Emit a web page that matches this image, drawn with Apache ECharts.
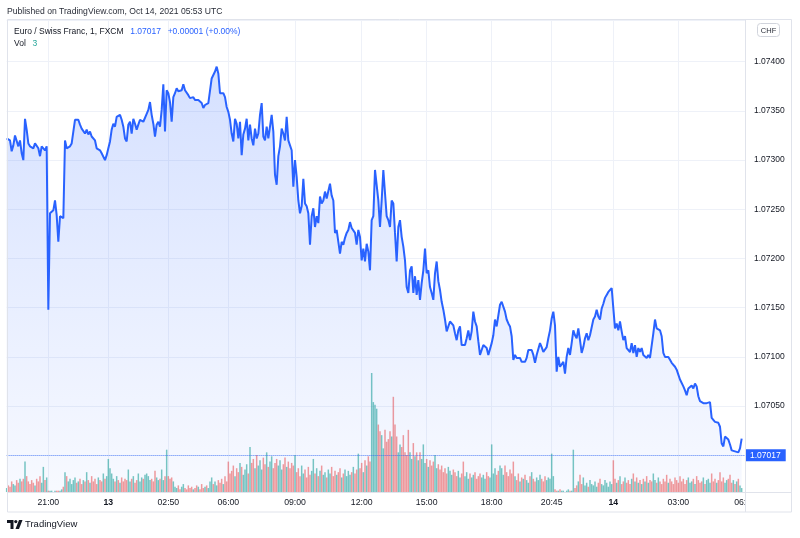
<!DOCTYPE html>
<html><head><meta charset="utf-8">
<script src="https://cdn.jsdelivr.net/npm/echarts@6/dist/echarts.min.js"></script>
<style>html,body{margin:0;padding:0;background:#fff;}#c{width:800px;height:538px;}</style>
</head><body><div id="c"></div>
<script>
// 1-minute EUR/CHF closes, sampled left to right
const closePrices = [
1.07322,1.07321,1.07320,1.07309,1.07315,1.07325,1.07324,1.07314,1.07320,1.07307,
1.07300,1.07342,1.07331,1.07317,1.07314,1.07313,1.07312,1.07317,1.07315,1.07312,
1.07304,1.07314,1.07315,1.07310,1.07314,1.07148,1.07246,1.07248,1.07249,1.07259,
1.07244,1.07217,1.07243,1.07243,1.07241,1.07320,1.07312,1.07314,1.07314,1.07317,
1.07329,1.07341,1.07339,1.07341,1.07336,1.07332,1.07334,1.07327,1.07331,1.07326,
1.07329,1.07324,1.07322,1.07320,1.07312,1.07314,1.07310,1.07307,1.07309,1.07300,
1.07305,1.07312,1.07319,1.07331,1.07337,1.07334,1.07344,1.07342,1.07346,1.07341,
1.07334,1.07322,1.07319,1.07336,1.07339,1.07327,1.07342,1.07337,1.07331,1.07336,
1.07341,1.07342,1.07339,1.07341,1.07347,1.07351,1.07359,1.07346,1.07337,1.07324,
1.07336,1.07339,1.07334,1.07351,1.07377,1.07329,1.07371,1.07368,1.07359,1.07339,
1.07364,1.07368,1.07373,1.07370,1.07368,1.07371,1.07377,1.07371,1.07370,1.07366,
1.07363,1.07362,1.07364,1.07361,1.07360,1.07361,1.07359,1.07358,1.07353,1.07356,
1.07354,1.07358,1.07359,1.07383,1.07381,1.07390,1.07395,1.07388,1.07368,1.07366,
1.07368,1.07364,1.07354,1.07349,1.07341,1.07327,1.07319,1.07342,1.07337,1.07322,
1.07339,1.07305,1.07326,1.07332,1.07342,1.07320,1.07336,
1.07322,1.07315,1.07332,1.07322,1.07327,1.07346,1.07358,1.07324,1.07320,1.07334,
1.07322,1.07334,1.07346,1.07329,1.07285,1.07275,1.07304,1.07314,1.07332,1.07327,
1.07320,1.07344,1.07320,1.07315,1.07310,1.07273,1.07300,1.07283,1.07259,1.07246,
1.07253,1.07281,1.07256,1.07253,1.07246,1.07214,1.07243,1.07251,1.07232,1.07243,
1.07236,1.07263,1.07256,1.07259,1.07268,1.07261,1.07263,1.07276,1.07264,1.07259,
1.07226,1.07229,1.07217,1.07205,1.07217,1.07214,1.07221,1.07226,1.07229,1.07237,
1.07231,1.07232,1.07226,1.07214,1.07229,1.07222,1.07198,1.07210,1.07197,1.07215,
1.07207,1.07188,1.07239,1.07243,1.07290,1.07292,1.07259,1.07232,1.07259,1.07290,
1.07288,1.07243,1.07239,1.07232,1.07259,1.07256,1.07226,1.07197,1.07232,1.07239,
1.07222,1.07212,1.07198,1.07171,1.07165,1.07188,1.07192,1.07165,1.07182,1.07163,
1.07178,
1.07158,1.07175,1.07188,1.07210,1.07185,1.07188,1.07171,1.07165,1.07158,1.07185,
1.07197,1.07177,1.07168,1.07156,1.07148,1.07138,1.07126,1.07131,1.07136,1.07138,
1.07132,1.07124,1.07117,1.07127,1.07131,1.07112,1.07110,1.07112,1.07119,1.07127,
1.07117,1.07126,1.07146,1.07136,1.07131,1.07116,1.07102,1.07107,1.07112,1.07114,
1.07109,1.07102,1.07104,1.07114,1.07122,1.07138,1.07131,1.07129,1.07153,1.07156,
1.07156,1.07146,1.07138,1.07134,1.07131,1.07121,1.07097,1.07102,1.07099,1.07097,
1.07099,1.07095,1.07097,1.07095,1.07099,1.07107,1.07105,1.07107,1.07102,1.07094,
1.07102,1.07104,1.07114,1.07110,1.07105,1.07104,1.07110,1.07119,1.07127,1.07139,
1.07146,1.07132,1.07085,1.07100,1.07090,1.07092,1.07095,1.07083,1.07100,1.07109,
1.07102,1.07114,1.07127,1.07122,1.07119,1.07129,1.07117,1.07104,1.07110,1.07119,
1.07124,1.07117,1.07122,1.07122,1.07138,1.07141,1.07148,1.07141,1.07138,1.07149,
1.07154,1.07160,1.07163,1.07166,1.07168,1.07170,1.07168,1.07129,1.07134,1.07127,
1.07136,1.07126,1.07117,1.07121,1.07109,1.07107,1.07105,1.07114,1.07104,1.07112,
1.07100,1.07109,1.07105,1.07109,1.07102,1.07104,1.07099,1.07102,1.07099,1.07097,
1.07124,1.07138,1.07129,1.07129,1.07127,1.07121,1.07104,1.07100,1.07099,1.07100,
1.07097,1.07094,1.07092,1.07090,1.07087,1.07082,1.07077,1.07075,1.07070,1.07066,
1.07061,1.07068,1.07070,1.07071,1.07068,1.07073,1.07070,1.07060,1.07055,1.07053,
1.07053,1.07052,1.07053,1.07053,1.07054,1.07038,1.07036,1.07034,1.07034,1.07033,
1.07029,1.07012,1.07009,1.07019,1.07021,1.07016,1.07011,1.07005,1.07005,1.07004,
1.07004,1.07003,1.07007,1.07017
];
// tick volume for each sampled bar
const volumes = [
3,5,4,8,6,5,9,7,10,8,
10,23,12,8,6,9,7,5,10,8,12,7,19,9,11,
1,1,1,0,1,1,1,1,2,
4,15,12,8,10,6,9,11,7,8,10,6,9,8,15,
9,7,12,8,10,6,11,9,8,14,10,12,
25,
18,14,10,8,12,9,7,11,8,10,9,
17,8,10,12,7,9,14,8,11,10,13,14,12,9,10,8,16,11,9,10,17,9,12,
32,
12,10,11,8,
4,3,5,2,4,6,3,2,5,3,4,2,3,5,4,2,6,3,4,5,3,8,
11,6,8,5,9,7,10,6,12,8,23,14,
16,20,12,18,15,22,19,13,17,21,14,34,
22,25,18,28,20,24,17,26,21,30,19,23,27,18,22,25,20,24,17,21,26,19,23,18,22,20,
28,
15,18,12,20,14,17,11,19,13,16,25,14,18,12,16,20,13,15,11,17,14,19,12,16,13,15,18,11,14,17,12,16,13,15,19,14,17,
29,
18,22,15,24,20,27,23,
90,
68,66,63,51,46,43,33,47,38,40,46,42,72,51,42,30,36,
34,43,30,28,47,30,25,37,27,30,24,30,
25,36,22,25,19,24,20,23,28,18,21,17,20,15,18,14,19,16,13,17,15,12,16,11,14,23,12,15,10,14,11,13,15,10,12,14,11,13,10,15,12,11,36,14,18,13,16,20,
18,13,20,15,12,17,14,23,
12,9,14,8,11,10,13,9,7,12,15,10,8,11,9,13,10,8,12,9,11,10,
29,12,
2,1,1,2,1,1,0,1,2,1,1,
32,
3,5,8,13,6,11,5,7,4,9,6,5,8,4,7,10,6,5,9,7,4,8,6,
24,
10,7,9,12,6,8,11,7,9,6,10,14,8,11,7,9,6,10,8,12,7,9,8,14,9,7,11,8,6,10,8,13,
7,10,8,6,11,9,7,12,8,10,6,9,11,7,8,10,6,12,9,7,8,11,6,9,10,7,
14,8,10,7,9,15,8,11,7,9,10,13,7,9,6,8,10,5,3
];
const rightPadBars = 2;
const tickLabels = ['21:00','13','02:50','06:00','09:00','12:00','15:00','18:00','20:45','14','03:00','06:00'];
const tickIndex = [25,61,97,133,173,213,252,291,327,364,403,443];
const boldTicks = ['13','14'];
const headerText = 'Published on TradingView.com, Oct 14, 2021 05:53 UTC';
const symbolText = 'Euro / Swiss Franc, 1, FXCM';
const changeText = '+0.00001 (+0.00%)';
const currencyText = 'CHF';
const priceMin = 1.069627, priceMax = 1.074424;

const FONT = '"Liberation Sans", Arial, sans-serif';
const BLUE = '#2962ff';
const UP = 'rgba(38,166,154,0.62)', DOWN = 'rgba(239,83,80,0.58)';
const n = closePrices.length + rightPadBars;
const categories = Array.from({length: n}, (_, i) => String(i));
const lineData = categories.map((_, i) => i < closePrices.length ? closePrices[i] : null);
const volData = categories.map((_, i) => i < volumes.length ? {
  value: volumes[i],
  itemStyle: {color: (i === 0 || closePrices[i] >= closePrices[i - 1]) ? UP : DOWN}
} : null);
const last = closePrices[closePrices.length - 1];
const lastVol = volumes[volumes.length - 1];
const isTick = (i) => tickIndex.indexOf(i) >= 0;

const chart = echarts.init(document.getElementById('c'), null, {renderer: 'canvas'});
chart.setOption({
  animation: false,
  backgroundColor: '#ffffff',
  textStyle: {fontFamily: FONT},
  grid: [
    {left: 6.67, right: 55, top: 20, bottom: 46},
    {left: 6.67, right: 55, top: 373, bottom: 46}
  ],
  xAxis: [
    {type: 'category', gridIndex: 0, data: categories, boundaryGap: false,
     axisLine: {show: false}, axisTick: {show: false},
     axisLabel: {interval: (i) => isTick(i), margin: 6, fontSize: 8.7, color: '#131722', fontFamily: FONT,
       formatter: (v) => { const k = tickIndex.indexOf(+v); if (k < 0) return ''; const t = tickLabels[k]; return boldTicks.indexOf(t) >= 0 ? '{b|' + t + '}' : t; },
       rich: {b: {fontWeight: 'bold', fontSize: 8.7, color: '#131722', fontFamily: FONT}}},
     splitLine: {show: true, interval: (i) => isTick(i), lineStyle: {color: '#eef1f8', width: 1}}},
    {type: 'category', gridIndex: 1, data: categories, boundaryGap: false, show: false}
  ],
  yAxis: [
    {type: 'value', gridIndex: 0, position: 'right', min: priceMin, max: priceMax, splitNumber: 10, scale: true,
     axisLine: {show: false}, axisTick: {show: false},
     axisLabel: {margin: 9, fontSize: 8.5, color: '#131722', fontFamily: FONT, showMinLabel: false, showMaxLabel: false,
       formatter: (v) => v.toFixed(5)},
     splitLine: {show: true, lineStyle: {color: '#eef1f8', width: 1}}},
    {type: 'value', gridIndex: 1, min: 0, max: 90, show: false}
  ],
  series: [
    {type: 'bar', xAxisIndex: 1, yAxisIndex: 1, data: volData, barWidth: 1.5, z: 2, silent: true},
    {type: 'line', xAxisIndex: 0, yAxisIndex: 0, data: lineData, showSymbol: false, z: 3,
     lineStyle: {color: BLUE, width: 2}, itemStyle: {color: BLUE},
     areaStyle: {origin: 'start', color: new echarts.graphic.LinearGradient(0, 0, 0, 1, [
       {offset: 0, color: 'rgba(41,98,255,0.28)'}, {offset: 1, color: 'rgba(41,98,255,0.05)'}])},
     markLine: {silent: true, symbol: ['none', 'none'], animation: false,
       lineStyle: {type: 'dotted', color: 'rgba(41,98,255,0.7)', width: 1},
       label: {show: true, position: 'end', distance: 1, formatter: () => last.toFixed(5),
         backgroundColor: BLUE, color: '#fff', padding: [2, 5, 1, 4], fontSize: 8.5, fontFamily: FONT},
       data: [{yAxis: last}]}}
  ],
  graphic: [
    {type: 'text', left: 7, top: 7, style: {text: headerText, font: '8.6px ' + FONT, fill: '#2a2e39'}},
    {type: 'rect', z: 100, shape: {x: 746, y: 493, width: 45, height: 18.5}, style: {fill: '#fff'}},
    {type: 'rect', z: 101, shape: {x: 7.5, y: 19.5, width: 784, height: 492.5}, style: {fill: null, stroke: '#e0e3eb', lineWidth: 1}},
    {type: 'line', z: 101, shape: {x1: 745.5, y1: 19.5, x2: 745.5, y2: 512}, style: {stroke: '#e0e3eb', lineWidth: 1}},
    {type: 'line', z: 101, shape: {x1: 7.5, y1: 492.5, x2: 791.5, y2: 492.5}, style: {stroke: '#e0e3eb', lineWidth: 1}},
    {type: 'rect', z: 101, shape: {x: 757.5, y: 23.5, width: 22, height: 13, r: 3}, style: {fill: '#fff', stroke: '#d1d4dc', lineWidth: 1}},
    {type: 'text', z: 102, x: 768.5, y: 30.5, style: {text: currencyText, font: '7.5px ' + FONT, fill: '#2a2e39', align: 'center', verticalAlign: 'middle'}},
    {type: 'text', z: 102, x: 14, y: 31.5, style: {
      text: '{a|' + symbolText + '}  {b|' + last.toFixed(5) + '}  {b|' + changeText + '}',
      verticalAlign: 'middle',
      rich: {a: {font: '8.5px ' + FONT, fill: '#131722'}, b: {font: '8.5px ' + FONT, fill: BLUE}}}},
    {type: 'text', z: 102, x: 14, y: 43.5, style: {
      text: '{a|Vol}  {c|' + lastVol + '}', verticalAlign: 'middle',
      rich: {a: {font: '8.5px ' + FONT, fill: '#131722'}, c: {font: '8.5px ' + FONT, fill: '#26a69a'}}}},
    {type: 'polygon', z: 102, shape: {points: [[7, 520], [13.5, 520], [13.5, 529], [10.5, 529], [10.5, 523], [7, 523]]}, style: {fill: '#131722'}},
    {type: 'circle', z: 102, shape: {cx: 15.8, cy: 521.6, r: 1.6}, style: {fill: '#131722'}},
    {type: 'polygon', z: 102, shape: {points: [[19, 520], [22.5, 520], [19, 529], [15.5, 529]]}, style: {fill: '#131722'}},
    {type: 'text', z: 102, x: 25, y: 524.5, style: {text: 'TradingView', font: '9.5px ' + FONT, fill: '#131722', verticalAlign: 'middle'}}
  ]
});
</script>
</body></html>
